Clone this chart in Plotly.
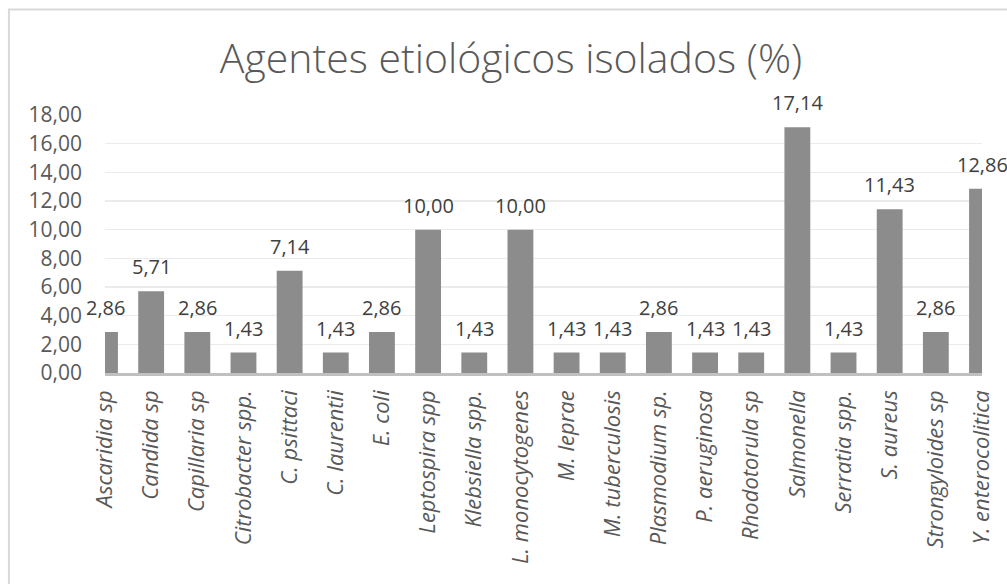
import plotly.graph_objects as go

categories = ["Ascaridia sp", "Candida sp", "Capillaria sp", "Citrobacter spp.", "C. psittaci",
              "C. laurentii", "E. coli", "Leptospira spp", "Klebsiella spp.", "L. monocytogenes",
              "M. leprae", "M. tuberculosis", "Plasmodium sp.", "P. aeruginosa", "Rhodotorula sp",
              "Salmonella", "Serratia spp.", "S. aureus", "Strongyloides sp", "Y. enterocolitica"]
values = [2.86, 5.71, 2.86, 1.43, 7.14, 1.43, 2.86, 10.00, 1.43, 10.00,
          1.43, 1.43, 2.86, 1.43, 1.43, 17.14, 1.43, 11.43, 2.86, 12.86]
title_text = "Agentes etiológicos isolados (%)"
y_ticks = [0, 2, 4, 6, 8, 10, 12, 14, 16, 18]

FONT = "Open Sans"
W, H = 1007, 584
L, R, T, B = 104.5, 17, 115, 211
pw = W - L - R
ph = H - T - B

labels = [f"{v:.2f}".replace(".", ",") for v in values]
idx = list(range(len(categories)))

fig = go.Figure()
fig.add_trace(go.Bar(
    x=idx, y=values, width=0.56,
    marker=dict(color="#8c8c8c", line=dict(width=0)),
    hoverinfo="skip", cliponaxis=True,
))

annotations = []
for i, v, t in zip(idx, values, labels):
    annotations.append(dict(
        x=i, y=v, xref="x", yref="y", text=t, showarrow=False,
        yanchor="bottom", xanchor="center", yshift=9,
        font=dict(family=FONT, size=20, color="#404040"),
    ))

# chart-area border (Excel style), extends beyond the visible image on right/bottom
bx0 = (7.5 - L) / pw
by1 = (H - B - 9.5) / ph
shapes = [dict(type="rect", xref="paper", yref="paper", x0=bx0, x1=1.3, y0=-2, y1=by1,
               line=dict(color="#d9d9d9", width=2), fillcolor="rgba(0,0,0,0)", layer="below")]

fig.update_layout(
    width=W, height=H,
    margin=dict(l=L, r=R, t=T, b=B, pad=0),
    paper_bgcolor="white", plot_bgcolor="white",
    separators=",.",
    showlegend=False,
    title=dict(text=title_text, x=511 / W, xanchor="center", xref="container",
               y=1 - 59 / H, yanchor="middle", yref="container",
               font=dict(family=FONT, size=41, color="#595959", weight=300)),
    annotations=annotations,
    shapes=shapes,
)
fig.update_xaxes(
    type="linear", range=[0, len(categories) - 1],
    tickmode="array", tickvals=idx, ticktext=[f"<i>{c}</i>" for c in categories],
    tickangle=-90, tickfont=dict(family=FONT, size=22, color="#595959"),
    showgrid=False, zeroline=False, showline=True, linecolor="#c0c0c0", linewidth=2.5,
    ticks="", ticklabelstandoff=6, fixedrange=True,
)
fig.update_yaxes(
    range=[0, 18], tickmode="array", tickvals=y_ticks, tickformat=".2f",
    tickfont=dict(family=FONT, size=21, color="#595959"),
    showgrid=True, gridcolor="#ebebeb", gridwidth=1.5, zeroline=False, showline=False,
    ticks="", ticklabelstandoff=22, fixedrange=True,
)

fig.write_html("out.html", config={"displayModeBar": False, "staticPlot": True},
               post_script="document.body.style.margin='0';document.body.style.overflow='hidden';")
